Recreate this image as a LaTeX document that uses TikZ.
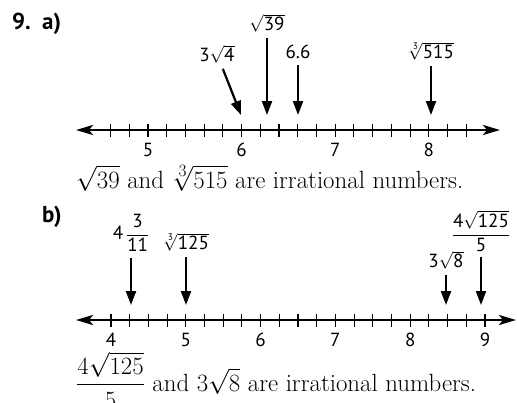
\documentclass[tikz,border=0pt]{standalone}
\usepackage{amsmath}
\usepackage{fontspec}
\setsansfont{PT Sans}
\usetikzlibrary{arrows.meta,positioning}

\newcommand{\sv}[1]{\text{\sffamily #1}}

\begin{document}
\begin{tikzpicture}[x=1pt, y=-1pt,
  numline/.style={line width=2.3pt, {Stealth[length=17pt,width=10pt,inset=4pt]}-{Stealth[length=17pt,width=10pt,inset=4pt]}},
  tick/.style={line width=1.1pt},
  ptr/.style={-{Triangle[length=14pt,width=10pt]}, line width=2.2pt, shorten <=5pt},
  val/.style={font=\sffamily\fontsize{19}{22}\selectfont, inner sep=1pt},
  num/.style={font=\sffamily\fontsize{19}{22}\selectfont, inner sep=1pt},
  head/.style={font=\sffamily\bfseries\fontsize{23}{28}\selectfont, anchor=base west, inner sep=0pt},
  remark/.style={font=\fontsize{24.88}{30}\selectfont, anchor=base west, inner sep=0pt}
]
\useasboundingbox (0,0) rectangle (517,402);

% part a
\node[head] (q9) at (12,29) {9.};
\node[head] (qa) at (42,29) {a)};

\coordinate (a0) at (76,130);
\coordinate (a1) at (500,130);
\draw[numline] (a0) -- (a1);
\foreach \i in {0,...,19}
  \draw[tick] ({148+18.72*(\i-2)},123.5) -- ++(0,13);
\foreach \n in {5,...,8}
  \node[num] (na\n) at ({148+93.6*(\n-5)},150) {\n};

\node[val] (l1) at (217,54) {$\sv{3}\sqrt{\sv{4}}$};
\node[val] (l2) at (267,23) {$\sqrt{\sv{39}}$};
\node[val] (l3) at (298,52) {6.6};
\node[val] (l4) at (431,51) {$\sqrt[\sv{3}]{\sv{515}}$};
\coordinate (t1) at (241,115);
\coordinate (t2) at (267,115);
\coordinate (t3) at (298,115);
\coordinate (t4) at (431,115);
\draw[ptr] (l1) -- (t1);
\draw[ptr] (l2) -- (t2);
\draw[ptr] (l3) -- (t3);
\draw[ptr] (l4) -- (t4);

\node[remark] (sa) at (76,188) {$\sqrt{39}$ and $\sqrt[3]{515}$ are irrational numbers.};

% part b
\node[head] (qb) at (42,222) {b)};

\coordinate (b0) at (76,320);
\coordinate (b1) at (516,320);
\draw[numline] (b0) -- (b1);
\foreach \i in {0,...,20}
  \draw[tick] ({111+18.7*\i},313.5) -- ++(0,13);
\foreach \n in {4,...,9}
  \node[num] (nb\n) at ({111+74.8*(\n-4)},340) {\n};

\node[val] (m1) at (131,233) {$\sv{4}\,\dfrac{\sv{3}}{\sv{11}}$};
\node[val] (m2) at (186,242) {$\sqrt[\sv{3}]{\sv{125}}$};
\node[val] (m3) at (446,260) {$\sv{3}\sqrt{\sv{8}}$};
\node[val] (m4) at (481,231) {$\dfrac{\sv{4}\sqrt{\sv{125}}}{\sv{5}}$};
\coordinate (u1) at (131,305);
\coordinate (u2) at (186,305);
\coordinate (u3) at (446,305);
\coordinate (u4) at (481,305);
\draw[ptr] (m1) -- (u1);
\draw[ptr] (m2) -- (u2);
\draw[ptr] (m3) -- (u3);
\draw[ptr] (m4) -- (u4);

\node[remark] (sb) at (76,391) {$\dfrac{4\sqrt{125}}{5}$ and $3\sqrt{8}$ are irrational numbers.};
\end{tikzpicture}
\end{document}
